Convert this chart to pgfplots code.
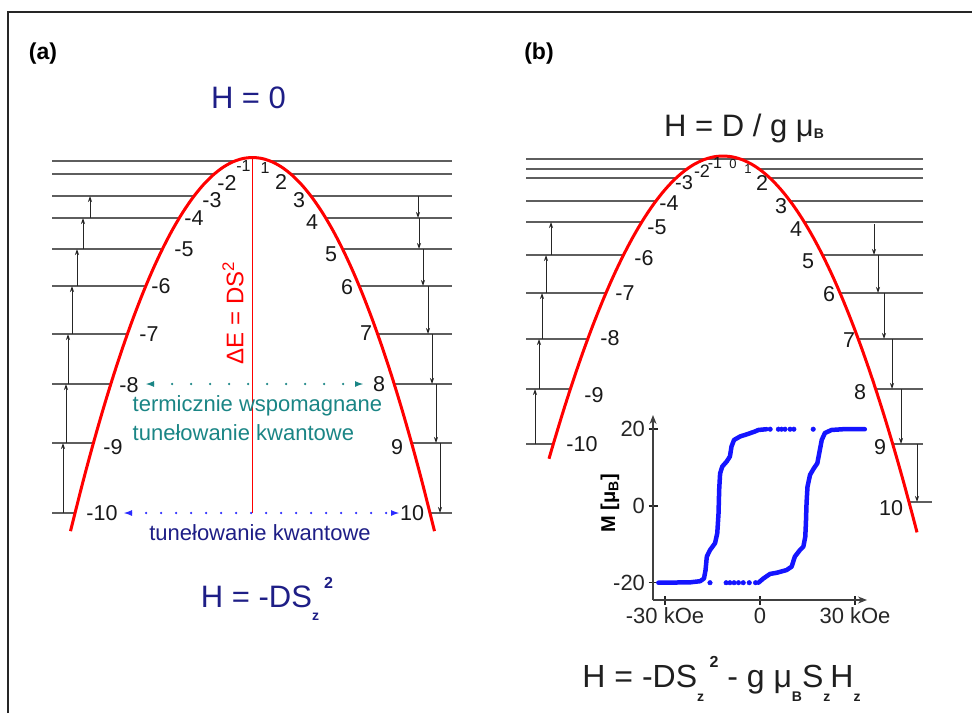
\documentclass[border=0pt]{standalone}
\usepackage{fontspec}
\setmainfont{Liberation Sans}
\usepackage{pgfplots}
\pgfplotsset{compat=1.18}
\usetikzlibrary{arrows.meta}
\definecolor{navyt}{HTML}{1E1E86}
\definecolor{tealt}{HTML}{1A8585}
\definecolor{dotblue}{HTML}{2B2BFF}
\definecolor{lvgray}{HTML}{5E5E5E}
\definecolor{mblue}{HTML}{1414FF}
\newcommand\fs[1]{\fontsize{#1}{#1}\selectfont}
\tikzset{
  lvst/.style={color=lvgray, line width=1.4pt},
  arst/.style={color=black!85, line width=0.8pt, -{Stealth[length=6pt,width=4pt]}},
}
% level segments: y, left end, right start
\newcommand\lvA[3]{\addplot[lvst] coordinates {(52,#1) (#2,#1)};\addplot[lvst] coordinates {(#3,#1) (452,#1)};}
\newcommand\lvB[3]{\addplot[lvst] coordinates {(526,#1) (#2,#1)};\addplot[lvst] coordinates {(#3,#1) (923,#1)};}
\newcommand\arr[3]{\addplot[arst] coordinates {(#1,#2) (#1,#3)};}
\newcommand\lab[4][21.5]{\node[font=\fs{#1}, text=black!90, inner sep=0.5pt] at (axis cs:#2,#3) {#4};}
\newcommand\subx[2][14]{\raisebox{-0.45em}{\fs{#1}\bfseries #2}}
\newcommand\supx[1]{\raisebox{0.6em}{\fs{16}\bfseries #1}}
\begin{document}
\begin{tikzpicture}
\useasboundingbox (0,0) rectangle (972pt,713pt);
\begin{axis}[at={(0,0)}, anchor=south west, width=972pt, height=713pt, scale only axis,
  xmin=0, xmax=972, ymin=0, ymax=713, y dir=reverse, hide axis, clip=false]
% frame
\addplot[black!85, line width=2pt] coordinates {(8,713) (8,12) (972,12)};

% ---------- panel (a) ----------
\lvA{161}{234.9}{270.1}
\lvA{174}{214.3}{290.7}
\lvA{196}{194.1}{310.9}
\lvA{218}{179.3}{325.7}
\lvA{249}{162.4}{342.6}
\lvA{286}{145.8}{359.2}
\lvA{334}{127.4}{377.6}
\lvA{384}{110.8}{394.2}
\lvA{443}{93.4}{411.6}
\lvA{513}{75}{430}
% up arrows (left)
\arr{90}{218}{196}
\arr{83}{249}{218}
\arr{77}{286}{249}
\arr{72}{334}{286}
\arr{68}{384}{334}
\arr{66}{443}{384}
\arr{63}{513}{443}
% down arrows (right)
\arr{418}{196}{218}
\arr{419}{218}{249}
\arr{423}{249}{286}
\arr{428}{286}{334}
\arr{432}{334}{384}
\arr{436}{384}{443}
\arr{440}{443}{513}
% vertical red line
\addplot[red, line width=1.5pt] coordinates {(252.5,157.5) (252.5,513)};
% parabola (a)
\addplot[red, line width=3pt, smooth] coordinates {
 (70.5,531.14) (82.5,483.49) (92.5,446.27) (102.5,411.3) (112.5,378.59)
 (122.5,348.13) (132.5,319.93) (142.5,294.0) (152.5,270.3) (162.5,248.87)
 (172.5,229.69) (182.5,212.77) (192.5,198.11) (202.5,185.7) (212.5,175.55)
 (222.5,167.65) (232.5,162.01) (242.5,158.63) (252.5,157.5) (262.5,158.63)
 (272.5,162.01) (282.5,167.65) (292.5,175.55) (302.5,185.7) (312.5,198.11)
 (322.5,212.77) (332.5,229.69) (342.5,248.87) (352.5,270.3) (362.5,294.0)
 (372.5,319.93) (382.5,348.13) (392.5,378.59) (402.5,411.3) (412.5,446.27)
 (422.5,483.49) (434.5,531.14)};
% dotted arrows
\addplot[tealt, line width=2.6pt, line cap=round, dash pattern=on 0pt off 19pt,
  {Latex[length=9pt,width=6pt]}-{Latex[length=9pt,width=6pt]}] coordinates {(145,384) (364,384)};
\addplot[dotblue, line width=2.6pt, line cap=round, dash pattern=on 0pt off 15pt,
  {Latex[length=9pt,width=6pt]}-{Latex[length=9pt,width=6pt]}] coordinates {(123,513) (400,513)};
% labels (a)
\lab[16]{243.5}{166}{-1}\lab[16]{265}{168}{1}
\lab{227}{182.5}{-2}\lab{281}{182}{2}
\lab{212}{200}{-3}\lab{299}{200}{3}
\lab{194}{218}{-4}\lab{312}{222}{4}
\lab{184}{249}{-5}\lab{331}{254}{5}
\lab{161}{286}{-6}\lab{347}{287}{6}
\lab{149}{334}{-7}\lab{366}{333}{7}
\lab{129}{385}{-8}\lab{379}{384}{8}
\lab{113}{447}{-9}\lab{397}{447}{9}
\lab{102}{513}{-10}\lab{412}{513}{10}
\node[red, rotate=90, font=\fs{24}] at (axis cs:233,313) {ΔE = DS\textsuperscript{2}};
\node[tealt, font=\fs{22}, anchor=west, inner sep=0.5pt] at (axis cs:132,406) {termicznie wspomagnane};
\node[tealt, font=\fs{22}, anchor=west, inner sep=0.5pt] at (axis cs:132,433) {tunełowanie kwantowe};
\node[navyt, font=\fs{22}] at (axis cs:260,533) {tunełowanie kwantowe};
\node[font=\fs{23}\bfseries] at (axis cs:43,54) {(a)};
\node[navyt, font=\fs{31}, anchor=base] at (axis cs:248.5,108) {H = 0};
\node[navyt, font=\fs{31}, anchor=base] at (axis cs:267,607) {H = -DS\subx{z}\,\supx{2}};

% ---------- panel (b) ----------
\addplot[lvst] coordinates {(526,159) (923,159)};
\lvB{169}{687}{759}
\lvB{178}{676.1}{769.9}
\lvB{201}{655.9}{790.1}
\lvB{222}{641.8}{804.2}
\lvB{255}{623.5}{822.5}
\lvB{293}{606}{840}
\lvB{339}{587.7}{858.3}
\lvB{389}{570.4}{875.6}
\lvB{444}{553.3}{892.7}
\addplot[lvst] coordinates {(909,502) (932,502)};
% up arrows (left)
\arr{551}{255}{222}
\arr{546}{293}{255}
\arr{542}{339}{293}
\arr{539}{389}{339}
\arr{535}{444}{389}
% down arrows (right)
\arr{874}{224}{255}
\arr{878}{255}{293}
\arr{884}{293}{339}
\arr{892}{339}{389}
\arr{901}{389}{444}
\arr{917}{444}{502}
% parabola (b)
\addplot[red, line width=3pt, smooth] coordinates {
 (549,458.76) (553,445) (563,412) (573,381) (583,352) (593,325) (603,300)
 (613,277) (623,256) (633,237) (643,220) (653,205) (663,192) (673,181)
 (683,172) (693,165) (703,160) (713,157) (723,156) (733,157) (743,160)
 (753,165) (763,172) (773,181) (783,192) (793,205) (803,220) (813,237)
 (823,256) (833,277) (843,300) (853,325) (863,352) (873,381) (883,412)
 (893,445) (903,480) (913,517) (917,532.36)};
% labels (b)
\lab[16]{715}{163}{-1}\lab[13]{733}{164}{0}\lab[13]{748}{169}{1}
\lab[18]{702}{171}{-2}\lab{762}{183}{2}
\lab[20]{684}{183}{-3}\lab{781}{206}{3}
\lab{669}{203}{-4}\lab{796}{229}{4}
\lab{657}{227}{-5}\lab{808}{261}{5}
\lab{644}{258}{-6}\lab{829}{294}{6}
\lab{625}{293}{-7}\lab{849}{340}{7}
\lab{610}{338}{-8}\lab{860}{392}{8}
\lab{594}{395}{-9}\lab{880}{447}{9}
\lab{582}{444}{-10}\lab{891}{508}{10}
\node[font=\fs{23}\bfseries] at (axis cs:539,54) {(b)};
\node[text=black!88, font=\fs{31}, anchor=base] at (axis cs:744,136) {H = D / g μ\raisebox{-2pt}{\fs{14}\bfseries B}};
\node[text=black!88, font=\fs{32}, anchor=base] at (axis cs:721.5,687)
  {H = -DS\subx{z}\,\supx{2} - g μ\subx{B}S\subx{z}H\subx{z}};
\node[rotate=90, font=\fs{20}\bfseries] at (axis cs:610,503) {M [μ\textsubscript{B}]};
\end{axis}

% ---------- inset hysteresis ----------
\begin{axis}[at={(653pt,113pt)}, anchor=south west, scale only axis,
  width=214pt, height=185pt, clip=false,
  xmin=-33.8, xmax=33.8, ymin=-24.5, ymax=23.7,
  axis lines=left,
  axis line style={line width=1.2pt, black!75},
  x axis line style={-{Stealth[length=9pt,width=7pt]}},
  y axis line style={-{Stealth[length=9pt,width=7pt]}},
  xtick={-30,0,30}, xticklabels={-30 kOe, 0, 30 kOe},
  ytick={-20,0,20}, yticklabels={-20,0,20},
  tick align=center, major tick length=9pt,
  tick style={black!85, line width=1.5pt},
  tick label style={font=\fs{22}, text=black!85},
  ]
% downward sweep
\addplot[mblue, line width=4.5pt, line join=round, line cap=round] coordinates {
 (2.1,20) (-0.5,19.8) (-1.6,19.4) (-3.7,18.8) (-6.3,18.1) (-8.2,17.2)
 (-9.0,15.5) (-9.5,12.9) (-10.5,11.6) (-11.9,10.3) (-12.6,8.5) (-12.9,4.2)
 (-13.1,-1.9) (-13.5,-7.1) (-14.2,-9.7) (-15.8,-11.5) (-16.8,-13.2)
 (-17.2,-16.7) (-17.7,-18.9) (-18.9,-19.6) (-22.1,-19.9) (-32.1,-20)};
% upward sweep
\addplot[mblue, line width=4.5pt, line join=round, line cap=round] coordinates {
 (-0.5,-20) (1.05,-18.9) (3.2,-17.7) (5.3,-17.4) (8.4,-16.7) (10.0,-15.8)
 (11.0,-13.2) (12.6,-11.5) (13.7,-10.6) (14.3,-8.0) (14.5,-4.5) (14.7,0.7)
 (15.0,5.0) (15.8,8.1) (17.0,9.8) (18.1,11.1) (18.7,13.7) (19.5,17.2)
 (20.5,19.0) (22.6,19.8) (26.3,20) (33.1,20)};
% sparse points
\addplot[only marks, mark=*, mark size=2.3pt, mark options={draw=mblue, fill=mblue}] coordinates {
 (3.2,20) (5.8,20) (6.8,20) (7.9,20) (9.5,20) (10.7,20) (16.8,20)
 (-15.8,-20) (-10.7,-20) (-9.5,-20) (-8.2,-20) (-6.8,-20) (-5.3,-20) (-3.4,-20) (-1.4,-20)};
\end{axis}
\end{tikzpicture}
\end{document}
